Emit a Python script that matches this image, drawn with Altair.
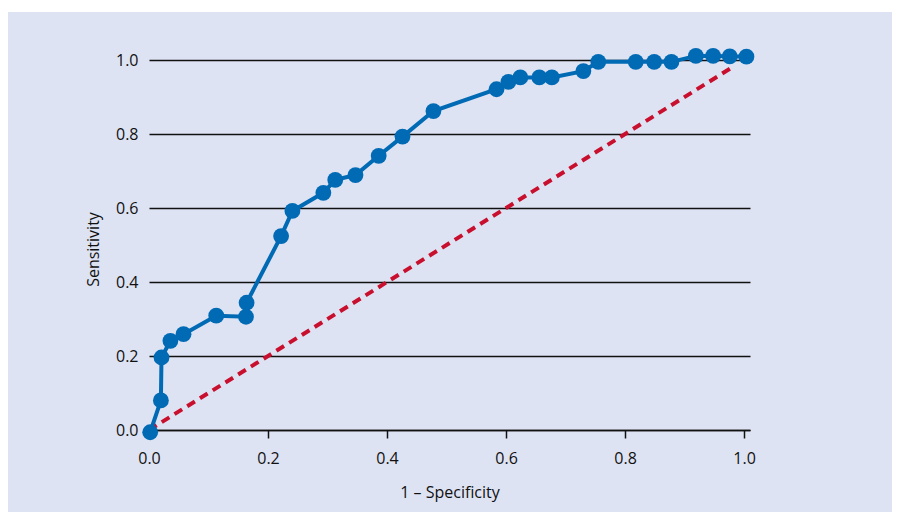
import altair as alt
import pandas as pd

# ROC curve points (1 - specificity, sensitivity)
fpr = [0.002, 0.020, 0.021, 0.036, 0.058, 0.113, 0.163, 0.164, 0.222, 0.241,
       0.293, 0.313, 0.347, 0.386, 0.426, 0.478, 0.584, 0.604, 0.624, 0.656,
       0.677, 0.730, 0.755, 0.818, 0.849, 0.878, 0.919, 0.948, 0.976, 1.004]
tpr = [-0.006, 0.080, 0.196, 0.241, 0.259, 0.309, 0.306, 0.344, 0.524, 0.592,
       0.641, 0.676, 0.689, 0.741, 0.793, 0.862, 0.921, 0.941, 0.953, 0.953,
       0.953, 0.970, 0.995, 0.995, 0.995, 0.995, 1.011, 1.011, 1.010, 1.009]

# reference (chance) line
diag_x = [0.0, 0.98]
diag_y = [0.0, 0.98]

x_ticks = [0.0, 0.2, 0.4, 0.6, 0.8, 1.0]
y_ticks = [0.0, 0.2, 0.4, 0.6, 0.8, 1.0]

BLUE = "#006ab4"
RED = "#c8102e"
BG = "#dee3f3"
FONT = "Open Sans"
TXT = "#111111"

roc = pd.DataFrame({"x": fpr, "y": tpr, "i": list(range(len(fpr)))})
diag = pd.DataFrame({"x": diag_x, "y": diag_y})

xscale = alt.Scale(domain=[0, 1.01], nice=False, zero=False)
yscale = alt.Scale(domain=[0, 1.0], nice=False, zero=False)

xaxis = alt.Axis(values=x_ticks, format=".1f", grid=False, domain=True,
                 domainColor=TXT, domainWidth=1.5, ticks=True,
                 tickColor=TXT, tickSize=8, tickWidth=1.5,
                 labelPadding=12, labelFontSize=16, labelFont=FONT,
                 labelFlush=False, labelOverlap=False,
                 labelColor=TXT, title="1 – Specificity",
                 titleFont=FONT, titleFontSize=16, titleFontWeight="normal",
                 titleColor=TXT, titleY=62, titleBaseline="middle")
yaxis = alt.Axis(values=y_ticks, format=".1f", grid=True, gridColor=TXT,
                 gridWidth=1.3, domain=False, ticks=False, labelPadding=11,
                 labelFontSize=16, labelFont=FONT, labelColor=TXT,
                 labelFlush=False, labelOverlap=False,
                 title="Sensitivity", titleFont=FONT, titleFontSize=16,
                 titleFontWeight="normal", titleColor=TXT,
                 titleAngle=-90, titleX=-56, titleY=189,
                 titleAlign="center", titleBaseline="middle")

strip = alt.Chart(pd.DataFrame({"a": [0]})).mark_rect(color="white").encode(
    x=alt.value(-141), x2=alt.value(744), y=alt.value(-52), y2=alt.value(-48)
)

diag_line = alt.Chart(diag).mark_line(
    color=RED, strokeWidth=4, strokeDash=[9, 6], clip=False
).encode(
    x=alt.X("x:Q", scale=xscale, axis=xaxis),
    y=alt.Y("y:Q", scale=yscale, axis=yaxis),
)

roc_line = alt.Chart(roc).mark_line(color=BLUE, strokeWidth=4, clip=False).encode(
    x=alt.X("x:Q", scale=xscale),
    y=alt.Y("y:Q", scale=yscale),
    order="i:Q",
)

roc_pts = alt.Chart(roc).mark_circle(color=BLUE, size=250, opacity=1, clip=False).encode(
    x=alt.X("x:Q", scale=xscale),
    y=alt.Y("y:Q", scale=yscale),
)

chart = alt.layer(strip, diag_line, roc_line, roc_pts).properties(
    width=601,
    height=370,
    background=BG,
    autosize=alt.AutoSizeParams(type="none"),
    padding={"left": 141, "top": 52, "right": 142, "bottom": 82},
).configure_view(stroke=None)

chart.save("out.html", embed_options={"renderer": "svg", "actions": False})
